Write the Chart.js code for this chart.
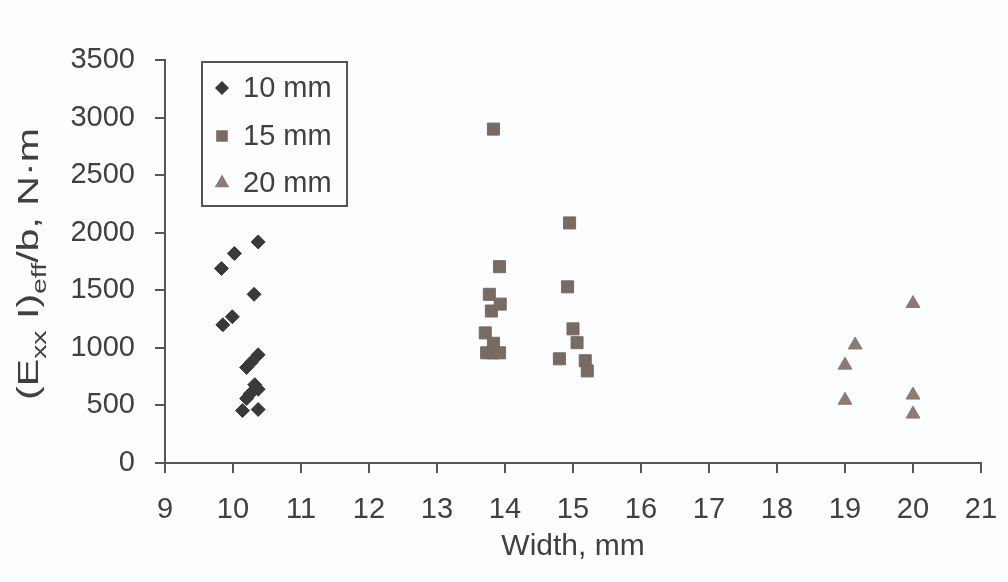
<!DOCTYPE html>
<html>
<head>
    <meta charset="utf-8">
    <title>Width vs (Exx I)eff/b</title>
    <script src="https://cdn.jsdelivr.net/npm/chart.js"></script>
    <style>
        html, body {
            margin: 0;
            padding: 0;
            background: #fcfdfe;
        }
        #wrap {
            width: 1008px;
            height: 582px;
            position: relative;
        }
    </style>
</head>
<body>
    <div id="wrap">
        <canvas id="scatterChart"></canvas>
    </div>

    <script>
      // series labels
      const seriesNames = ['10 mm', '15 mm', '20 mm'];

      // 10 mm
      const widths10 = [9.83, 10.02, 10.37, 10.31, 9.99, 9.85, 10.37, 10.27, 10.2, 10.32, 10.37, 10.25, 10.2, 10.14, 10.37];
      const values10 = [1690, 1820, 1920, 1465, 1270, 1200, 940, 875, 830, 680, 640, 600, 560, 455, 465];

      // 15 mm
      const widths15 = [13.83, 14.95, 13.92, 13.77, 13.93, 13.8, 14.92, 13.71, 13.83, 13.73, 13.82, 13.92, 15.0, 15.06, 14.8, 15.18, 15.21];
      const values15 = [2900, 2085, 1705, 1465, 1380, 1320, 1530, 1130, 1040, 957, 957, 957, 1165, 1045, 905, 888, 800];

      // 20 mm
      const widths20 = [20.0, 19.15, 19.0, 19.0, 20.0, 20.0];
      const values20 = [1385, 1025, 850, 545, 590, 425];

      // axis ranges / tick steps
      const xTicks = { min: 9, max: 21, step: 1 };
      const yTicks = { min: 0, max: 3500, step: 500 };

      const toPoints = (xs, ys) => xs.map((x, i) => ({ x: x, y: ys[i] }));

      const textColor = '#404040';
      const axisColor = '#555555';
      const fontFamily = '"Liberation Sans", Arial, sans-serif';

      // legend with a border, drawn inside the plot like the original
      const boxLegend = {
        id: 'boxLegend',
        afterDraw(chart) {
          const ctx = chart.ctx;
          ctx.save();
          ctx.strokeStyle = axisColor;
          ctx.lineWidth = 2;
          ctx.strokeRect(202, 62, 145, 144);
          const rows = [88, 136, 183];
          ctx.font = '29px ' + fontFamily;
          ctx.textBaseline = 'middle';
          ctx.textAlign = 'left';
          chart.data.datasets.forEach((ds, i) => {
            ctx.fillStyle = ds.backgroundColor;
            ctx.strokeStyle = ds.borderColor;
            Chart.helpers.drawPoint(ctx, {
              pointStyle: ds.pointStyle,
              radius: ds.pointRadius * 0.8,
              borderWidth: 1,
              rotation: 0
            }, 222, rows[i]);
            ctx.fillStyle = textColor;
            ctx.fillText(ds.label, 243, rows[i] + 1);
          });
          ctx.restore();
        }
      };

      // axis titles (the y title needs subscripts)
      const axisTitles = {
        id: 'axisTitles',
        afterDraw(chart) {
          const ctx = chart.ctx;
          const area = chart.chartArea;
          ctx.save();
          ctx.fillStyle = textColor;

          ctx.font = '30px ' + fontFamily;
          ctx.textAlign = 'center';
          ctx.textBaseline = 'alphabetic';
          ctx.fillText('Width, mm', (area.left + area.right) / 2, 555);

          const big = '29px ' + fontFamily;
          const small = '20px ' + fontFamily;
          const parts = [
            { t: '(E', f: big, dy: 0 },
            { t: 'xx', f: small, dy: 8 },
            { t: ' I)', f: big, dy: 0 },
            { t: 'eff', f: small, dy: 8 },
            { t: '/b, N\u00b7m', f: big, dy: 0 }
          ];
          let total = 0;
          parts.forEach(p => { ctx.font = p.f; p.w = ctx.measureText(p.t).width; total += p.w; });
          const wanted = 272;
          ctx.translate(38, 264);
          ctx.rotate(-Math.PI / 2);
          ctx.scale(wanted / total, 1);
          ctx.textAlign = 'left';
          let u = -total / 2;
          parts.forEach(p => {
            ctx.font = p.f;
            ctx.fillText(p.t, u, p.dy);
            u += p.w;
          });
          ctx.restore();
        }
      };

      const ctx = document.getElementById('scatterChart').getContext('2d');
      const chart = new Chart(ctx, {
        type: 'scatter',
        data: {
          datasets: [{
            label: seriesNames[0],
            data: toPoints(widths10, values10),
            pointStyle: 'rectRot',
            pointRadius: 7,
            backgroundColor: '#393939',
            borderColor: '#393939',
            borderWidth: 1
          }, {
            label: seriesNames[1],
            data: toPoints(widths15, values15),
            pointStyle: 'rect',
            pointRadius: 8.5,
            backgroundColor: '#776b62',
            borderColor: '#776b62',
            borderWidth: 1
          }, {
            label: seriesNames[2],
            data: toPoints(widths20, values20),
            pointStyle: 'triangle',
            pointRadius: 8,
            backgroundColor: '#8b7b70',
            borderColor: '#8b7b70',
            borderWidth: 1
          }]
        },
        options: {
          responsive: true,
          maintainAspectRatio: false,
          animation: false,
          layout: {
            autoPadding: false,
            padding: { top: 60, right: 27, bottom: 0, left: 0 }
          },
          plugins: {
            legend: { display: false },
            tooltip: { enabled: false }
          },
          scales: {
            x: {
              type: 'linear',
              min: xTicks.min,
              max: xTicks.max,
              ticks: {
                stepSize: xTicks.step,
                color: textColor,
                padding: 20,
                maxRotation: 0,
                font: { family: fontFamily, size: 29 }
              },
              grid: {
                drawOnChartArea: false,
                drawTicks: true,
                tickLength: 10,
                color: axisColor,
                lineWidth: 2
              },
              border: { display: true, color: axisColor, width: 2 },
              // fixed plot box: 165..981 x 60..463
              afterFit: (scale) => {
                scale.height = 119;
                scale.paddingLeft = 0;
                scale.paddingRight = 0;
              }
            },
            y: {
              type: 'linear',
              min: yTicks.min,
              max: yTicks.max,
              ticks: {
                stepSize: yTicks.step,
                color: textColor,
                padding: 20,
                callback: (value) => String(value),
                font: { family: fontFamily, size: 29 }
              },
              grid: {
                drawOnChartArea: false,
                drawTicks: true,
                tickLength: 10,
                color: axisColor,
                lineWidth: 2
              },
              border: { display: true, color: axisColor, width: 2 },
              afterFit: (scale) => {
                scale.width = 165;
                scale.paddingTop = 0;
                scale.paddingBottom = 0;
              }
            }
          }
        },
        plugins: [boxLegend, axisTitles]
      });
    </script>
</body>
</html>
